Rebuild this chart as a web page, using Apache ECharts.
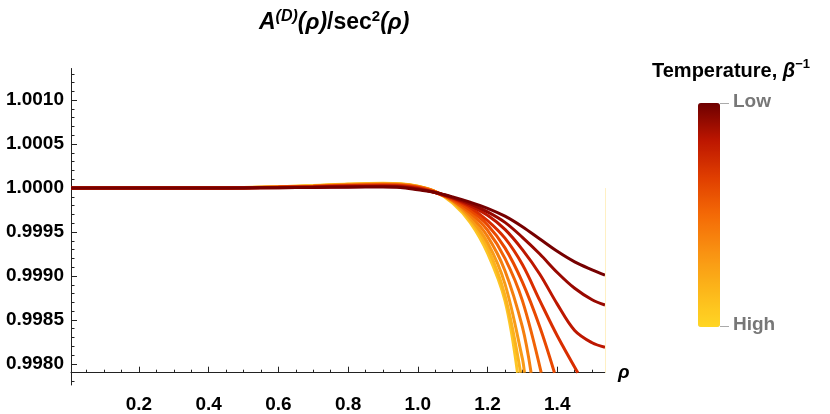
<!DOCTYPE html>
<html><head><meta charset="utf-8">
<script src="https://cdn.jsdelivr.net/npm/echarts@6/dist/echarts.min.js"></script>
<style>html,body{margin:0;padding:0;background:#fff}#c{width:830px;height:414px}</style>
</head><body><div id="c"></div>
<script>
// ---- data ----
const rho = [0.005, 0.1, 0.2, 0.3, 0.4, 0.5, 0.6, 0.7, 0.8, 0.9, 0.95, 1.0, 1.05, 1.1, 1.15, 1.2, 1.25, 1.3, 1.35, 1.4, 1.45, 1.5, 1.537];
// coldest (Low) -> hottest (High)
const c0 = [1,1,1,1,1, 1.000002, 1.000004, 1.000007, 1.00001, 1.000012, 1.000007, 0.99998, 0.99995, 0.99990, 0.99984, 0.99977, 0.99968, 0.99956, 0.99942, 0.99928, 0.99916, 0.99907, 0.99901];
const c1 = [1,1,1,1,1, 1.000002, 1.000005, 1.00001, 1.000015, 1.000018, 1.000013, 0.99999, 0.99995, 0.99989, 0.99982, 0.99973, 0.99961, 0.99944, 0.99925, 0.99904, 0.99886, 0.99873, 0.99867];
const c2 = [1,1,1,1,1, 1.000003, 1.000007, 1.000013, 1.00002, 1.000024, 1.000019, 0.999995, 0.99995, 0.99989, 0.99980, 0.99969, 0.99953, 0.99930, 0.99902, 0.99868, 0.99838, 0.99824, 0.99819];
const c3 = [1,1,1,1,1, 1.000003, 1.000008, 1.000015, 1.000024, 1.00003, 1.000025, 1.000003, 0.99995, 0.99988, 0.99978, 0.99963, 0.99943, 0.99913, 0.99872, 0.99832, null, null, null];
const c4 = [1,1,1,1,1, 1.000004, 1.00001, 1.000018, 1.000028, 1.000035, 1.00003, 1.000008, 0.99995, 0.99987, 0.99975, 0.99958, 0.99932, 0.99893, 0.99842, null, null, null, null];
const c5 = [1,1,1,1,1, 1.000004, 1.000011, 1.00002, 1.000032, 1.00004, 1.000035, 1.000012, 0.99996, 0.99986, 0.99972, 0.99952, 0.99920, 0.99872, null, null, null, null, null];
const c6 = [1,1,1,1,1, 1.000005, 1.000012, 1.000022, 1.000036, 1.000044, 1.00004, 1.000015, 0.99996, 0.99986, 0.99969, 0.99945, 0.99906, 0.99842, null, null, null, null, null];
const c7 = [1,1,1,1,1, 1.000005, 1.000013, 1.000024, 1.00004, 1.000048, 1.000044, 1.000018, 0.99996, 0.99985, 0.99966, 0.99938, 0.99891, 0.99806, null, null, null, null, null];
const c8 = [1,1,1,1,1, 1.000006, 1.000014, 1.000026, 1.000043, 1.000052, 1.000046, 1.00002, 0.99996, 0.99984, 0.99964, 0.99932, 0.99878, null, null, null, null, null, null];
const c9 = [1,1,1,1,1, 1.000006, 1.000015, 1.000028, 1.000046, 1.000055, 1.000048, 1.00002, 0.99996, 0.99983, 0.99961, 0.99926, 0.99872, null, null, null, null, null, null];
// where a curve leaves the plot through the bottom axis
const exitRho = [null, null, null, 1.459, 1.392, 1.354, 1.325, 1.306, 1.295, 1.286];
const axisFloor = 0.9979;
const xMajor = [0.2, 0.4, 0.6, 0.8, 1.0, 1.2, 1.4];
const yMajor = [0.998, 0.9985, 0.999, 0.9995, 1.0, 1.0005, 1.001];
const curveColors = ['#760000', '#980800', '#bd1700', '#d92e00', '#e94800', '#f16306', '#f57f0e', '#f89b17', '#fbb31e', '#fdc626'];
const legendColors = ['#ffd624', '#fcb61a', '#f99212', '#f46a06', '#e03e00', '#bc1600', '#6e0000'];

// ---- chart ----
const FONT = "'Liberation Sans', Arial, sans-serif";
const allCurves = [c0, c1, c2, c3, c4, c5, c6, c7, c8, c9];
const xMin = 0.005, xMax = 1.537, yMin = 0.99776, yMax = 1.00136;
const xMinor = []; for (let i = 1; i <= 30; i++) xMinor.push(+(i * 0.05).toFixed(2));
const yMinor = []; for (let i = 9978; i <= 10013; i++) yMinor.push(i / 10000);

function buildData(vals, exit) {
  const d = [];
  for (let i = 0; i < rho.length; i++) if (vals[i] != null) d.push([rho[i], vals[i]]);
  if (exit != null) d.push([exit, axisFloor]);
  return d;
}
const series = [];
for (let k = 9; k >= 0; k--) {
  const s = {
    type: 'line', name: 'T' + k, data: buildData(allCurves[k], exitRho[k]),
    showSymbol: false, symbol: 'none', smooth: 0.35,
    lineStyle: { width: 3, color: curveColors[k] }, itemStyle: { color: curveColors[k] },
    xAxisIndex: 0, yAxisIndex: 0, clip: true, z: 2
  };
  if (k === 9) {
    // faint edge line seen at the right end of the plot
    s.markLine = { silent: true, symbol: 'none', label: { show: false },
      lineStyle: { color: '#fff0c4', width: 1, type: 'solid' },
      data: [[{ coord: [xMax, 1.0] }, { coord: [xMax, axisFloor] }]] };
  }
  series.push(s);
}
const axisCol = '#222';
const chart = echarts.init(document.getElementById('c'));
chart.setOption({
  animation: false,
  backgroundColor: '#fff',
  title: [{
    text: '{i|A}{sup|(D)}{i|(ρ)}{b|/sec}{sup2|2}{i|(ρ)}',
    left: 259, top: 9, padding: 0,
    textStyle: {
      rich: {
        i: { fontFamily: FONT, fontStyle: 'italic', fontWeight: 'bold', fontSize: 23, lineHeight: 28, color: '#000' },
        b: { fontFamily: FONT, fontWeight: 'bold', fontSize: 23, lineHeight: 28, color: '#000' },
        sup: { fontFamily: FONT, fontStyle: 'italic', fontWeight: 'bold', fontSize: 16, lineHeight: 12, verticalAlign: 'top', color: '#000' },
        sup2: { fontFamily: FONT, fontWeight: 'bold', fontSize: 15, lineHeight: 12, verticalAlign: 'top', color: '#000' }
      }
    }
  }, {
    text: '{b|Temperature, }{i|β}{sup|−1}',
    left: 652, top: 58, padding: 0,
    textStyle: {
      rich: {
        b: { fontFamily: FONT, fontWeight: 'bold', fontSize: 20, lineHeight: 26, color: '#000' },
        i: { fontFamily: FONT, fontStyle: 'italic', fontWeight: 'bold', fontSize: 20, lineHeight: 26, color: '#000' },
        sup: { fontFamily: FONT, fontWeight: 'bold', fontSize: 13, lineHeight: 14, verticalAlign: 'top', color: '#000' }
      }
    }
  }],
  grid: { left: 71, top: 68.5, width: 534, height: 325.2, containLabel: false },
  xAxis: [{
    type: 'value', min: xMin, max: xMax, position: 'bottom',
    axisLine: { show: true, onZero: true, onZeroAxisIndex: 1, lineStyle: { color: axisCol, width: 1 } },
    axisTick: { show: true, inside: true, length: 6, customValues: xMajor, lineStyle: { color: axisCol } },
    axisLabel: { customValues: xMajor, margin: 10, color: '#000', fontFamily: FONT, fontWeight: 'bold', fontSize: 19,
      formatter: v => v.toFixed(1) },
    splitLine: { show: false },
    name: 'ρ', nameLocation: 'end', nameGap: 13,
    nameTextStyle: { fontFamily: FONT, fontStyle: 'italic', fontWeight: 'bold', fontSize: 19, color: '#000', padding: [14, 0, 0, 0] }
  }, {
    type: 'value', min: xMin, max: xMax, position: 'bottom',
    axisLine: { show: false, onZero: true, onZeroAxisIndex: 1 },
    axisTick: { show: true, inside: true, length: 3, customValues: xMinor, lineStyle: { color: axisCol } },
    axisLabel: { show: false }, splitLine: { show: false }
  }],
  yAxis: [{
    type: 'value', min: yMin, max: yMax, position: 'left',
    axisLine: { show: true, onZero: false, lineStyle: { color: axisCol, width: 1 } },
    axisTick: { show: true, inside: true, length: 6, customValues: yMajor, lineStyle: { color: axisCol } },
    axisLabel: { customValues: yMajor, margin: 7, color: '#000', fontFamily: FONT, fontWeight: 'bold', fontSize: 19,
      formatter: v => v.toFixed(4) },
    splitLine: { show: false }
  }, {
    type: 'value', min: yMin - axisFloor, max: yMax - axisFloor, position: 'right', show: false,
    axisLine: { onZero: false }, splitLine: { show: false }
  }, {
    type: 'value', min: yMin, max: yMax, position: 'left',
    axisLine: { show: false, onZero: false },
    axisTick: { show: true, inside: true, length: 3.5, customValues: yMinor, lineStyle: { color: axisCol } },
    axisLabel: { show: false }, splitLine: { show: false }
  }],
  visualMap: {
    type: 'continuous', min: 0, max: 1, orient: 'vertical', left: 698, top: 103,
    itemWidth: 22, itemHeight: 224, padding: 0, calculable: false, seriesIndex: [],
    hoverLink: false, inRange: { color: legendColors }
  },
  graphic: [
    { type: 'line', shape: { x1: 720, y1: 103.5, x2: 729, y2: 103.5 }, style: { stroke: '#aaa', lineWidth: 1 } },
    { type: 'line', shape: { x1: 720, y1: 326.5, x2: 729, y2: 326.5 }, style: { stroke: '#aaa', lineWidth: 1 } },
    { type: 'text', left: 733, top: 92, style: { text: 'Low', fill: '#777', fontFamily: FONT, fontWeight: 'bold', fontSize: 19 } },
    { type: 'text', left: 733, top: 315, style: { text: 'High', fill: '#777', fontFamily: FONT, fontWeight: 'bold', fontSize: 19 } }
  ],
  series: series
});
</script>
</body></html>
